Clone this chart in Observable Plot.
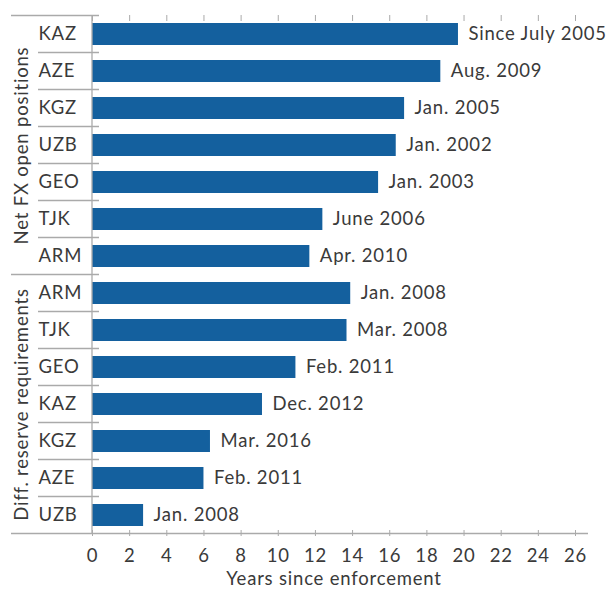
<!DOCTYPE html>
<html><head><meta charset="utf-8">
<script src="https://cdn.jsdelivr.net/npm/d3@7"></script>
<script src="https://cdn.jsdelivr.net/npm/@observablehq/plot@0.6"></script>
<style>body{margin:0;background:#fff;} svg{display:block;}</style>
</head><body><div id="chart"></div>
<script>
const groupNames = ["Net FX open positions", "Diff. reserve requirements"];
const netCountries = ["KAZ","AZE","KGZ","UZB","GEO","TJK","ARM"];
const netYears = [19.7, 18.75, 16.8, 16.35, 15.4, 12.4, 11.7];
const netDates = ["Since July 2005","Aug. 2009","Jan. 2005","Jan. 2002","Jan. 2003","June 2006","Apr. 2010"];
const diffCountries = ["ARM","TJK","GEO","KAZ","KGZ","AZE","UZB"];
const diffYears = [13.9, 13.7, 10.95, 9.15, 6.35, 6.0, 2.75];
const diffDates = ["Jan. 2008","Mar. 2008","Feb. 2011","Dec. 2012","Mar. 2016","Feb. 2011","Jan. 2008"];
const xTicks = [0,2,4,6,8,10,12,14,16,18,20,22,24,26];

const rows = [];
netCountries.forEach((c, i) => rows.push({group: 0, key: "net-" + c, country: c, years: netYears[i], date: netDates[i]}));
diffCountries.forEach((c, i) => rows.push({group: 1, key: "diff-" + c, country: c, years: diffYears[i], date: diffDates[i]}));
const groupLabels = [
  {key: rows[3].key, label: groupNames[0]},
  {key: rows[10].key, label: groupNames[1]}
];

const textColor = "#3a3a3a";
const lineColor = "#aaa";
const font = "Lato, 'Noto Sans', sans-serif";

const plot = Plot.plot({
  width: 611, height: 589,
  marginTop: 14, marginBottom: 53, marginLeft: 92, marginRight: 36,
  style: {fontFamily: font, fontSize: "18.5px", color: textColor, background: "#fff", overflow: "visible"},
  x: {domain: [0, 26], label: null},
  y: {domain: rows.map(d => d.key), paddingInner: 0.4, paddingOuter: 0.2, axis: null},
  marks: [
    Plot.barX(rows, {x: "years", y: "key", fill: "#14609e"}),
    Plot.text(rows, {x: "years", y: "key", text: "date", textAnchor: "start", dx: 10, fill: textColor, fontSize: 18.5}),
    Plot.text(rows, {y: "key", text: "country", frameAnchor: "left", textAnchor: "start", dx: -54, fill: textColor, fontSize: 18.5}),
    Plot.text(groupLabels, {y: "key", text: "label", frameAnchor: "left", textAnchor: "middle", rotate: -90, dx: -70, fill: textColor, fontSize: 18.5}),
    Plot.axisX({anchor: "bottom", ticks: xTicks, tickSize: 0, tickPadding: 12, tickFormat: d => d, label: "Years since enforcement", labelAnchor: "center", labelArrow: "none", labelOffset: 48, fill: textColor, fontSize: 18.5}),
    Plot.axisX({anchor: "bottom", ticks: xTicks, tickSize: -6, fill: "none", stroke: lineColor, label: null}),
    Plot.axisX({anchor: "top", ticks: xTicks, tickSize: -6, fill: "none", stroke: lineColor, label: null})
  ]
});
document.getElementById("chart").appendChild(plot);
d3.select(plot).selectAll("text").style("letter-spacing", "0.8px");

// structural lines derived from the scales
(function () {
  const xs = plot.scale("x"), ys = plot.scale("y");
  const step = ys.step, bw = ys.bandwidth;
  const gap = (step - bw) / 2;
  const x0 = xs.apply(0);
  const yTop = ys.apply(rows[0].key) - gap;
  const yBottom = ys.apply(rows[rows.length - 1].key) + bw + gap;
  const svg = d3.select(plot);
  const g = svg.append("g").attr("stroke", lineColor).attr("stroke-width", 1.3);
  g.append("line").attr("x1", x0).attr("x2", x0).attr("y1", yTop).attr("y2", yBottom);
  rows.forEach((r, i) => {
    if (i === 0) return;
    const yy = ys.apply(r.key) - gap;
    const isGroup = r.group !== rows[i - 1].group;
    g.append("line").attr("x1", isGroup ? 11 : 38).attr("x2", x0 + 7).attr("y1", yy).attr("y2", yy);
  });
  g.append("line").attr("x1", 11).attr("x2", x0 + 7).attr("y1", yTop).attr("y2", yTop);
  g.append("line").attr("x1", 11).attr("x2", xs.apply(26) + 13).attr("y1", yBottom).attr("y2", yBottom);
})();
</script>
</body></html>
